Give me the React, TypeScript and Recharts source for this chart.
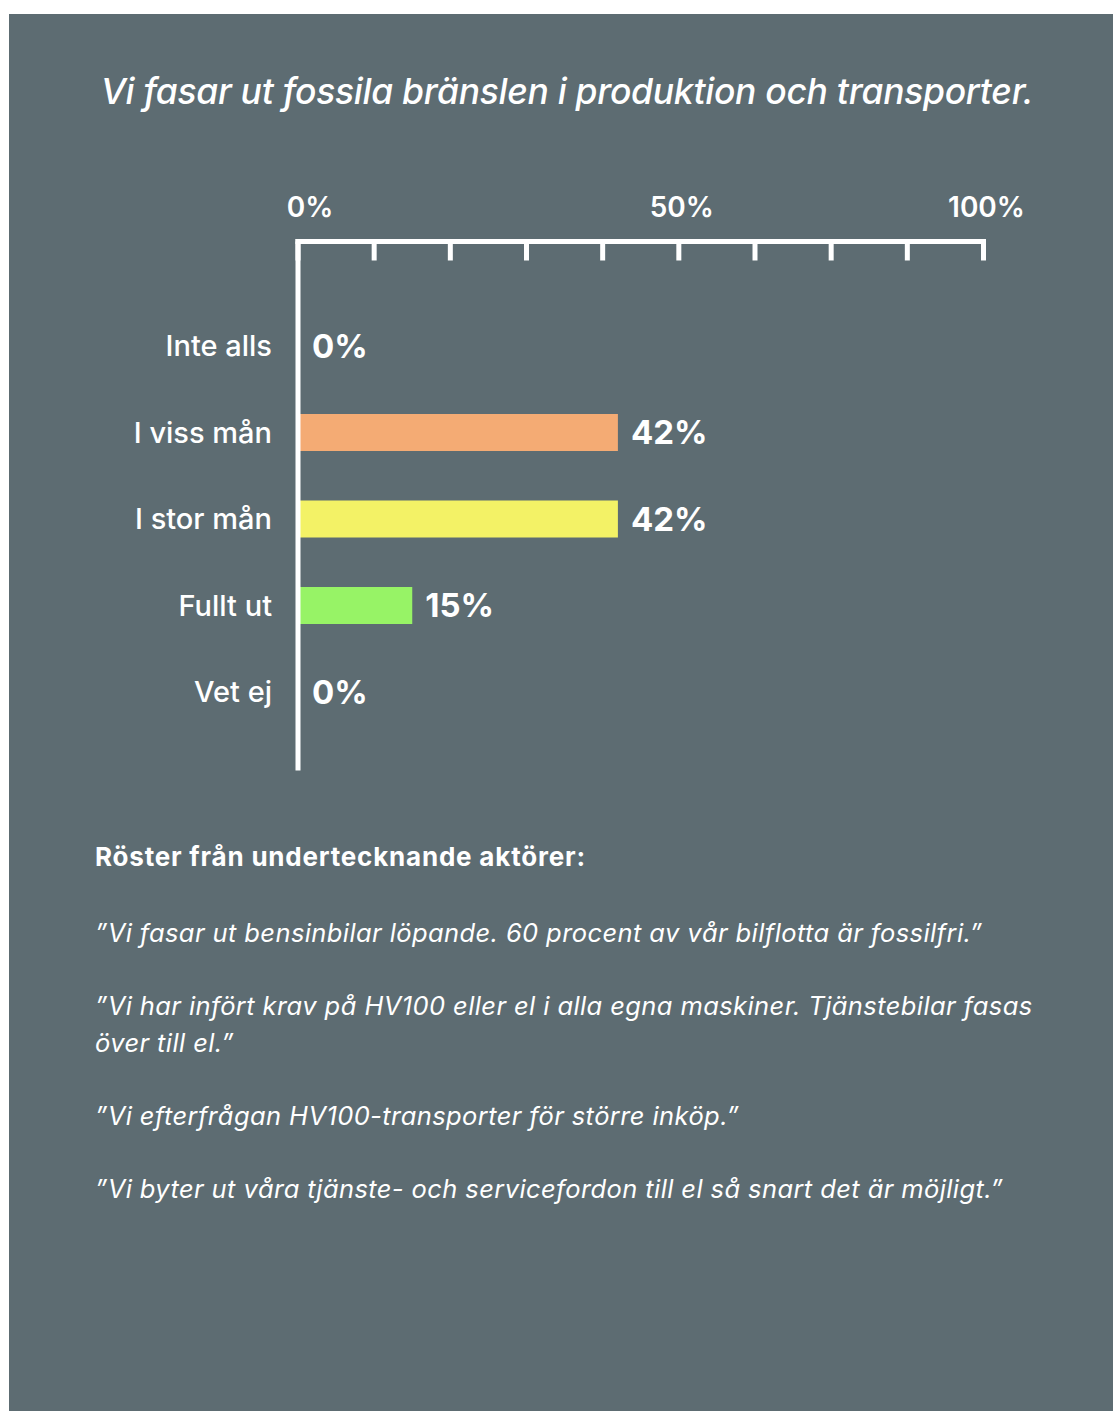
import { BarChart, Bar, XAxis, YAxis, Cell, LabelList } from 'recharts'

// Svarsalternativ och andel svarande
const kategorier = ['Inte alls', 'I viss mån', 'I stor mån', 'Fullt ut', 'Vet ej']
const andelar = [0, 42, 42, 15, 0]
// Nollstaplarna får vit färg så att de försvinner i axellinjen
const farger = ['#ffffff', '#f4ab74', '#f3f266', '#97f366', '#ffffff']

// Skalan i originalet: strecken går 0–90, sista strecket är märkt "100%"
const xTicks = [0, 10, 20, 30, 40, 50, 60, 70, 80, 90]
const xTickEtiketter: Record<number, string> = { 0: '0%', 50: '50%', 90: '100%' }

const rubrik = 'Vi fasar ut fossila bränslen i produktion och transporter.'
const underrubrik = 'Röster från undertecknande aktörer:'
const citat = [
  '”Vi fasar ut bensinbilar löpande. 60 procent av vår bilflotta är fossilfri.”',
  '”Vi har infört krav på HV100 eller el i alla egna maskiner. Tjänstebilar fasas över till el.”',
  '”Vi efterfrågan HV100-transporter för större inköp.”',
  '”Vi byter ut våra tjänste- och servicefordon till el så snart det är möjligt.”',
]

const data = kategorier.map((namn, i) => ({ namn, andel: andelar[i] }))

const XTick = ({ x, y, payload }: any) => {
  const etikett = xTickEtiketter[payload.value]
  if (!etikett) return null
  return (
    <text x={x + (payload.value === 0 ? 12 : 3)} y={y} textAnchor="middle" fill="#fff" fontSize={28} fontWeight={600}>
      {etikett}
    </text>
  )
}

export default function App() {
  return (
    <div
      style={{
        position: 'absolute',
        left: 9,
        top: 14,
        width: 1104,
        height: 1397,
        background: '#5d6c72',
        fontFamily: 'Inter, sans-serif',
        color: '#fff',
      }}
    >
      <div
        style={{
          position: 'absolute',
          top: 58,
          left: 6,
          width: 1104,
          textAlign: 'center',
          fontSize: 35.5,
          lineHeight: '40px',
          fontStyle: 'italic',
          fontWeight: 500,
          letterSpacing: -0.3,
          whiteSpace: 'nowrap',
        }}
      >
        {rubrik}
      </div>

      <div style={{ position: 'absolute', left: 0, top: 0 }}>
        <BarChart
          width={1104}
          height={800}
          data={data}
          layout="vertical"
          margin={{ top: 167.5, left: 89, right: 129.5, bottom: 46 }}
        >
          <Bar dataKey="andel" barSize={37} minPointSize={1} isAnimationActive={false}>
            {data.map((d, i) => (
              <Cell key={d.namn} fill={farger[i]} />
            ))}
            <LabelList
              dataKey="andel"
              position="right"
              offset={13}
              formatter={(v: any) => `${v}%`}
              fill="#fff"
              fontSize={33}
              fontWeight={700}
            />
          </Bar>
          <XAxis
            type="number"
            orientation="top"
            domain={[0, 90]}
            ticks={xTicks}
            height={60}
            tickSize={-19}
            tickMargin={44}
            tick={<XTick />}
            tickLine={{ stroke: '#fff', strokeWidth: 5 }}
            axisLine={{ stroke: '#fff', strokeWidth: 5, strokeLinecap: 'square' }}
          />
          <YAxis
            type="category"
            dataKey="namn"
            width={200}
            padding={{ top: 61, bottom: 33 }}
            tickSize={0}
            tickMargin={26}
            tickLine={false}
            axisLine={{ stroke: '#fff', strokeWidth: 5, strokeLinecap: 'square' }}
            tick={{ fill: '#fff', fontSize: 29, fontWeight: 500 }}
          />
        </BarChart>
      </div>

      <div
        style={{
          position: 'absolute',
          left: 86,
          top: 828,
          fontSize: 26,
          lineHeight: '30px',
          fontWeight: 700,
          letterSpacing: 0.8,
        }}
      >
        {underrubrik}
      </div>

      <div style={{ position: 'absolute', left: 86, top: 901, width: 960 }}>
        {citat.map((c) => (
          <p
            key={c}
            style={{
              margin: '0 0 36.5px',
              fontSize: 25.5,
              lineHeight: '36.5px',
              fontStyle: 'italic',
              fontWeight: 400,
              letterSpacing: 0.4,
            }}
          >
            {c}
          </p>
        ))}
      </div>
    </div>
  )
}
